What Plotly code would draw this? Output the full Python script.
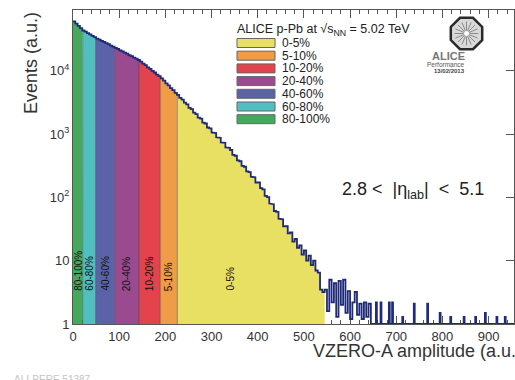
import math
import plotly.graph_objects as go

# VZERO-A amplitude histogram, p-Pb at 5.02 TeV (bins of 5 a.u. from 0 to 650)
bin_width = 5
counts = [
    60300, 55400, 51300, 47200, 43300, 41400, 39300, 37600, 35500, 34100,
    32300, 31100, 29700, 28600, 27300, 26300, 25000, 24100, 23000, 22200,
    21000, 20300, 19300, 18600, 17600, 17000, 16100, 15600, 14800, 13950,
    12950, 12250, 11350, 10750, 9950, 9400, 8720, 8240, 7560, 7010,
    6340, 5890, 5310, 4950, 4460, 4170, 3740, 3500, 3130, 2940,
    2600, 2470, 2180, 2070, 1820, 1750, 1520, 1470, 1270, 1230,
    1060, 1040, 890, 870, 740, 730, 615, 605, 560, 470,
    455, 385, 372, 315, 305, 258, 250, 212, 208, 172,
    172, 140, 134, 106, 101, 80, 78, 61, 59, 46,
    45, 35, 35, 27, 28, 20, 22, 16, 17.5, 12.5,
    14.5, 10, 12, 8.5, 10, 7, 6.5, 3.5, 3.2, 3.5,
    1.6, 5.0, 2.2, 4.4, 1.3, 4.8, 2.0, 5.0, 1.5, 3.3,
    1.2, 2.2, 3.2, 1.4, 2.1, 1.2, 2.2, 1.3, 2.1, 1.0,
]

# isolated entries in the far tail (amplitude, content)
spike_x = [657, 667, 685, 692, 714, 739, 768, 795, 818, 847, 872, 893, 918, 936]
spike_y = [2.2, 2.2, 2.2, 2.2, 1.3, 2.1, 2.1, 1.5, 1.3, 1.3, 1.3, 1.5, 1.3, 1.3]
spike_width = 2

# centrality classes, in ascending amplitude
band_labels = ["80-100%", "60-80%", "40-60%", "20-40%", "10-20%", "5-10%", "0-5%"]
band_edges = [0, 21, 49, 90, 143, 189, 226, 545]
band_colors = ["#46a85b", "#4fbfc0", "#5a63a8", "#9a4a8f", "#e2434c", "#ef9b48", "#e8e062"]

x_ticks = [0, 100, 200, 300, 400, 500, 600, 700, 800, 900]
y_ticks = [1, 10, 100, 1000, 10000]
y_tick_text = ["1", "10", "10<sup>2</sup>", "10<sup>3</sup>", "10<sup>4</sup>"]

X_MAX = 955
FONT = "Liberation Sans, Arial, sans-serif"
NAVY = "#1f2a78"

# plot-area frame in pixels (figure 515 x 380)
W, H = 515, 380
L, R, T, B = 73, 514, 10, 324


def px_x(p):
    return (p - L) / (R - L)


def px_y(p):
    return (B - p) / (B - T)


def level(x):
    i = min(int(x // bin_width), len(counts) - 1)
    return counts[i]


def step_segment(lo, hi):
    xs, ys = [], []
    for i, c in enumerate(counts):
        a, b = i * bin_width, (i + 1) * bin_width
        if b <= lo or a >= hi:
            continue
        xs += [max(a, lo), min(b, hi)]
        ys += [c, c]
    return xs, ys


fig = go.Figure()

# filled centrality bands
for k, col in enumerate(band_colors):
    lo, hi = band_edges[k], band_edges[k + 1]
    sx, sy = step_segment(lo, hi)
    fig.add_trace(go.Scatter(
        x=[lo] + sx + [hi, lo], y=[1] + sy + [1, 1],
        mode="lines", fill="toself", fillcolor=col,
        line=dict(width=0), hoverinfo="skip", showlegend=False))

# separators between bands
for e in band_edges[1:-1]:
    fig.add_trace(go.Scatter(
        x=[e, e], y=[1, level(e)], mode="lines",
        line=dict(color="rgba(70,70,70,0.55)", width=1),
        hoverinfo="skip", showlegend=False))

# histogram outline
ox, oy = step_segment(0, len(counts) * bin_width)
ox.append(len(counts) * bin_width)
oy.append(1)
for sxv, syv in zip(spike_x, spike_y):
    a, b = sxv - spike_width / 2, sxv + spike_width / 2
    ox += [a, a, b, b]
    oy += [1, syv, syv, 1]
ox.append(X_MAX)
oy.append(1)
fig.add_trace(go.Scatter(
    x=ox, y=oy, mode="lines", line=dict(color=NAVY, width=1.8),
    hoverinfo="skip", showlegend=False))

annotations = []
shapes = []

# class labels inside the bands
label_pos = [(a + b) / 2 for a, b in zip(band_edges[:-1], band_edges[1:])]
label_pos[-1] = 340
for lab, xp in zip(band_labels, label_pos):
    annotations.append(dict(
        x=xp, xref="x", y=px_y(293), yref="paper", text=lab, textangle=-90,
        showarrow=False, xanchor="center", yanchor="bottom",
        font=dict(family=FONT, size=10, color="#111")))

# legend block
annotations.append(dict(
    x=px_x(235), y=px_y(30), xref="paper", yref="paper",
    text="ALICE p-Pb at √s<sub>NN</sub> = 5.02 TeV", showarrow=False,
    xanchor="left", yanchor="middle", font=dict(family=FONT, size=12.5, color="#222")))
row0, row_step = 43, 12.7
for r, (lab, col) in enumerate(zip(band_labels[::-1], band_colors[::-1])):
    yc = row0 + r * row_step
    shapes.append(dict(
        type="rect", xref="paper", yref="paper",
        x0=px_x(237), x1=px_x(275), y0=px_y(yc + 4.5), y1=px_y(yc - 4.5),
        fillcolor=col, line=dict(color="#666", width=1)))
    annotations.append(dict(
        x=px_x(280), y=px_y(yc), xref="paper", yref="paper", text=lab,
        showarrow=False, xanchor="left", yanchor="middle",
        font=dict(family=FONT, size=12, color="#222")))

# pseudorapidity acceptance
annotations.append(dict(
    x=px_x(413), y=px_y(190), xref="paper", yref="paper",
    text="2.8 &lt;&nbsp; |η<sub>lab</sub>| &nbsp;&lt;&nbsp; 5.1", showarrow=False,
    xanchor="center", yanchor="middle", font=dict(family=FONT, size=18, color="#222")))

# ALICE logo: octagon with spokes
cx, cy, rad = 466.5, 33.5, 17
pts = []
for k in range(8):
    a = math.radians(22.5 + 45 * k)
    pts.append((px_x(cx + rad * math.cos(a)), px_y(cy + rad * math.sin(a))))
path = "M " + " L ".join(f"{x:.4f},{y:.4f}" for x, y in pts) + " Z"
shapes.append(dict(type="path", xref="paper", yref="paper", path=path,
                   fillcolor="#d9d9d9", line=dict(color="#2a2a2a", width=2.5)))
spokes = []
for k in range(16):
    a = math.radians(22.5 * k)
    spokes.append(f"M {px_x(cx + 3 * math.cos(a)):.4f},{px_y(cy + 3 * math.sin(a)):.4f} "
                  f"L {px_x(cx + 12 * math.cos(a)):.4f},{px_y(cy + 12 * math.sin(a)):.4f}")
shapes.append(dict(type="path", xref="paper", yref="paper", path=" ".join(spokes),
                   line=dict(color="#8a8a8a", width=1)))
shapes.append(dict(type="circle", xref="paper", yref="paper",
                   x0=px_x(cx - 3), x1=px_x(cx + 3), y0=px_y(cy + 3), y1=px_y(cy - 3),
                   fillcolor="#ffffff", line=dict(color="#999", width=1)))
annotations.append(dict(x=px_x(cx), y=px_y(56), xref="paper", yref="paper",
                        text="<b>ALICE</b>", showarrow=False, yanchor="middle",
                        font=dict(family=FONT, size=11, color="#777")))
annotations.append(dict(x=px_x(cx), y=px_y(64.5), xref="paper", yref="paper",
                        text="Performance", showarrow=False, yanchor="middle",
                        font=dict(family=FONT, size=6.5, color="#555")))
annotations.append(dict(x=px_x(cx), y=px_y(71), xref="paper", yref="paper",
                        text="<b>13/02/2013</b>", showarrow=False, yanchor="middle",
                        font=dict(family=FONT, size=6, color="#444")))

# axis titles
annotations.append(dict(
    x=px_x(311), y=px_y(351), xref="paper", yref="paper",
    text="VZERO-A amplitude (a.u.)", showarrow=False, xanchor="left", yanchor="middle",
    font=dict(family=FONT, size=18, color="#333")))
annotations.append(dict(
    x=px_x(31), y=px_y(10), xref="paper", yref="paper",
    text="Events (a.u.)", textangle=-90, showarrow=False,
    xanchor="center", yanchor="top",
    font=dict(family=FONT, size=18, color="#333")))

# figure identifier
annotations.append(dict(
    x=px_x(12), y=px_y(372), xref="paper", yref="paper",
    text="ALI-PERF-51387", showarrow=False, xanchor="left", yanchor="top",
    font=dict(family=FONT, size=10, color="#c4c4c4")))

fig.update_layout(
    width=W, height=H,
    margin=dict(l=L, r=W - R, t=T, b=H - B, pad=0),
    paper_bgcolor="white", plot_bgcolor="white",
    showlegend=False,
    annotations=annotations, shapes=shapes,
    xaxis=dict(
        range=[0, X_MAX], tickvals=x_ticks, ticks="inside", ticklen=8,
        tickcolor="#555", showline=True, linecolor="#555", linewidth=1,
        mirror="ticks", showgrid=False, zeroline=False, layer="below traces",
        minor=dict(dtick=20, tick0=0, ticks="inside", ticklen=4, tickcolor="#555"),
        tickfont=dict(family=FONT, size=13, color="#333")),
    yaxis=dict(
        type="log", range=[0, 4.96], tickvals=y_ticks, ticktext=y_tick_text,
        ticks="inside", ticklen=8, tickcolor="#555", showline=True,
        linecolor="#555", linewidth=1, mirror="ticks", showgrid=False,
        zeroline=False, layer="below traces",
        tickfont=dict(family=FONT, size=13, color="#333")),
)

fig.write_html("out.html")
